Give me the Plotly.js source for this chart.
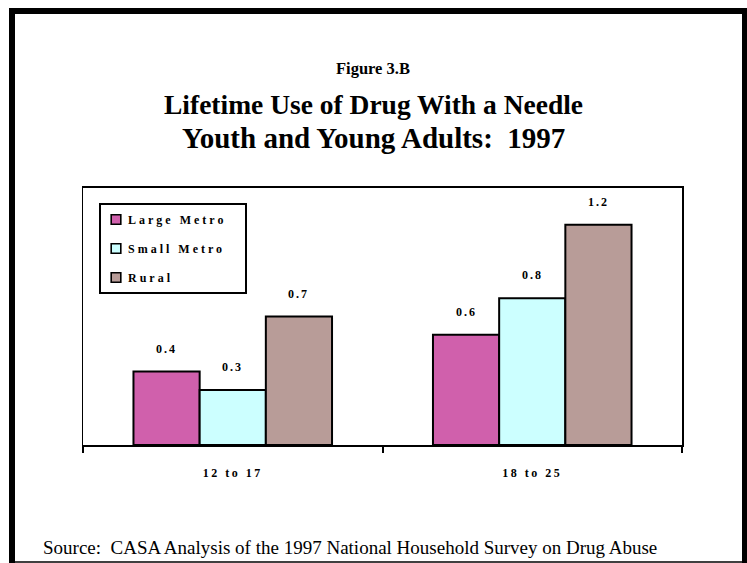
<!DOCTYPE html>
<html>
<head>
<meta charset="utf-8">
<script src="https://cdn.plot.ly/plotly-3.0.1.min.js"></script>
<style>
  html, body { margin: 0; padding: 0; background: #fff; }
  #chart { width: 747px; height: 563px; }
  .legendtext { letter-spacing: 3px; }
  #chart .legendtext { transform: translateX(-13px); }
  #chart .legend .legendpoints path { transform: translate(15px, 0px) scale(0.8); }
  #chart .xtick text { letter-spacing: 2.5px; }
  #chart .annotation[data-index="0"] text,
  #chart .annotation[data-index="1"] text,
  #chart .annotation[data-index="2"] text,
  #chart .annotation[data-index="3"] text,
  #chart .annotation[data-index="4"] text,
  #chart .annotation[data-index="5"] text { letter-spacing: 2px; }
</style>
</head>
<body>
<div id="chart"></div>
<script>
// ---- data ----
const categories = ["12 to 17", "18 to 25"];
const seriesNames = ["Large Metro", "Small Metro", "Rural"];
const largeMetro = [0.4, 0.6];
const smallMetro = [0.3, 0.8];
const rural = [0.7, 1.2];
const seriesColors = ["#D060AC", "#CCFFFF", "#B89C98"];

const titleLine1 = "Figure 3.B";
const titleLine2 = "Lifetime Use of Drug With a Needle";
const titleLine3 = "Youth and Young Adults:  1997";
const sourceText = "Source:  CASA Analysis of the 1997 National Household Survey on Drug Abuse";

// keep double spaces visible in SVG text
const keepSpaces = s => s.replace(/  /g, " &nbsp;");

// ---- layout geometry ----
const W = 747, H = 563;
const M = { l: 83, r: 65, t: 188, b: 118 };
const PW = W - M.l - M.r, PH = H - M.t - M.b;
const px2x = px => (px - M.l) / PW;
const px2y = py => (H - M.b - py) / PH;

const bargap = 0.337;
const barW = (1 - bargap) / 3;
const serif = "'Liberation Serif', 'Times New Roman', Times, serif";

const seriesValues = [largeMetro, smallMetro, rural];
const traces = seriesValues.map((vals, i) => ({
  type: "bar",
  name: seriesNames[i],
  x: categories,
  y: vals,
  legendgroup: "g" + i,
  marker: { color: seriesColors[i], line: { color: "#000", width: 2 } },
  hoverinfo: "none"
}));

const annotations = [];
seriesValues.forEach((vals, i) => {
  vals.forEach((v, j) => {
    annotations.push({
      xref: "x", yref: "y",
      x: j + (i - 1) * barW, y: v,
      text: v.toFixed(1),
      showarrow: false,
      yanchor: "bottom",
      yshift: 14,
      font: { family: serif, size: 12, color: "#000", weight: "bold" }
    });
  });
});
annotations.push(
  { xref: "paper", yref: "paper", x: px2x(373), y: px2y(68), text: "<b>" + titleLine1 + "</b>",
    showarrow: false, xanchor: "center", yanchor: "middle", font: { family: serif, size: 16.5, color: "#000" } },
  { xref: "paper", yref: "paper", x: px2x(373), y: px2y(104), text: "<b>" + titleLine2 + "</b>",
    showarrow: false, xanchor: "center", yanchor: "middle", font: { family: serif, size: 27.5, color: "#000" } },
  { xref: "paper", yref: "paper", x: px2x(373), y: px2y(138), text: "<b>" + keepSpaces(titleLine3) + "</b>",
    showarrow: false, xanchor: "center", yanchor: "middle", font: { family: serif, size: 29, color: "#000" } },
  { xref: "paper", yref: "paper", x: px2x(41), y: px2y(547), text: keepSpaces(sourceText),
    showarrow: false, xanchor: "left", yanchor: "middle", font: { family: serif, size: 19, color: "#000" } }
);

const shapes = [
  { type: "line", xref: "paper", yref: "paper", x0: px2x(12), x1: px2x(12), y0: px2y(8), y1: px2y(563), line: { color: "#000", width: 6 } },
  { type: "line", xref: "paper", yref: "paper", x0: px2x(9), x1: px2x(747), y0: px2y(11), y1: px2y(11), line: { color: "#000", width: 6 } },
  { type: "line", xref: "paper", yref: "paper", x0: px2x(745), x1: px2x(745), y0: px2y(8), y1: px2y(563), line: { color: "#000", width: 6 } },
  { type: "line", xref: "paper", yref: "paper", x0: px2x(9), x1: px2x(747), y0: px2y(562), y1: px2y(562), line: { color: "#000", width: 1.5 } }
];

const layout = {
  width: W, height: H,
  margin: M,
  paper_bgcolor: "#fff", plot_bgcolor: "#fff",
  barmode: "group",
  bargap: bargap,
  bargroupgap: 0,
  showlegend: true,
  legend: {
    x: px2x(99), y: px2y(203), xanchor: "left", yanchor: "top",
    bordercolor: "#000", borderwidth: 2, bgcolor: "#fff",
    traceorder: "grouped", tracegroupgap: 10,
    itemwidth: 30,
    font: { family: serif, size: 12, color: "#000", weight: "bold" }
  },
  xaxis: {
    type: "category",
    showline: true, linecolor: "#000", linewidth: 2, mirror: true,
    ticks: "outside", tickson: "boundaries", ticklen: 6, tickwidth: 2, tickcolor: "#000",
    showgrid: false, zeroline: false,
    tickfont: { family: serif, size: 12, color: "#000", weight: "bold" },
    ticklabelstandoff: 16
  },
  yaxis: {
    range: [0, 1.4],
    showline: true, linecolor: "#000", linewidth: 1.5, mirror: true,
    ticks: "", showticklabels: false, showgrid: false, zeroline: false
  },
  annotations: annotations,
  shapes: shapes
};

Plotly.newPlot("chart", traces, layout, { displayModeBar: false, staticPlot: true });
</script>
</body>
</html>
